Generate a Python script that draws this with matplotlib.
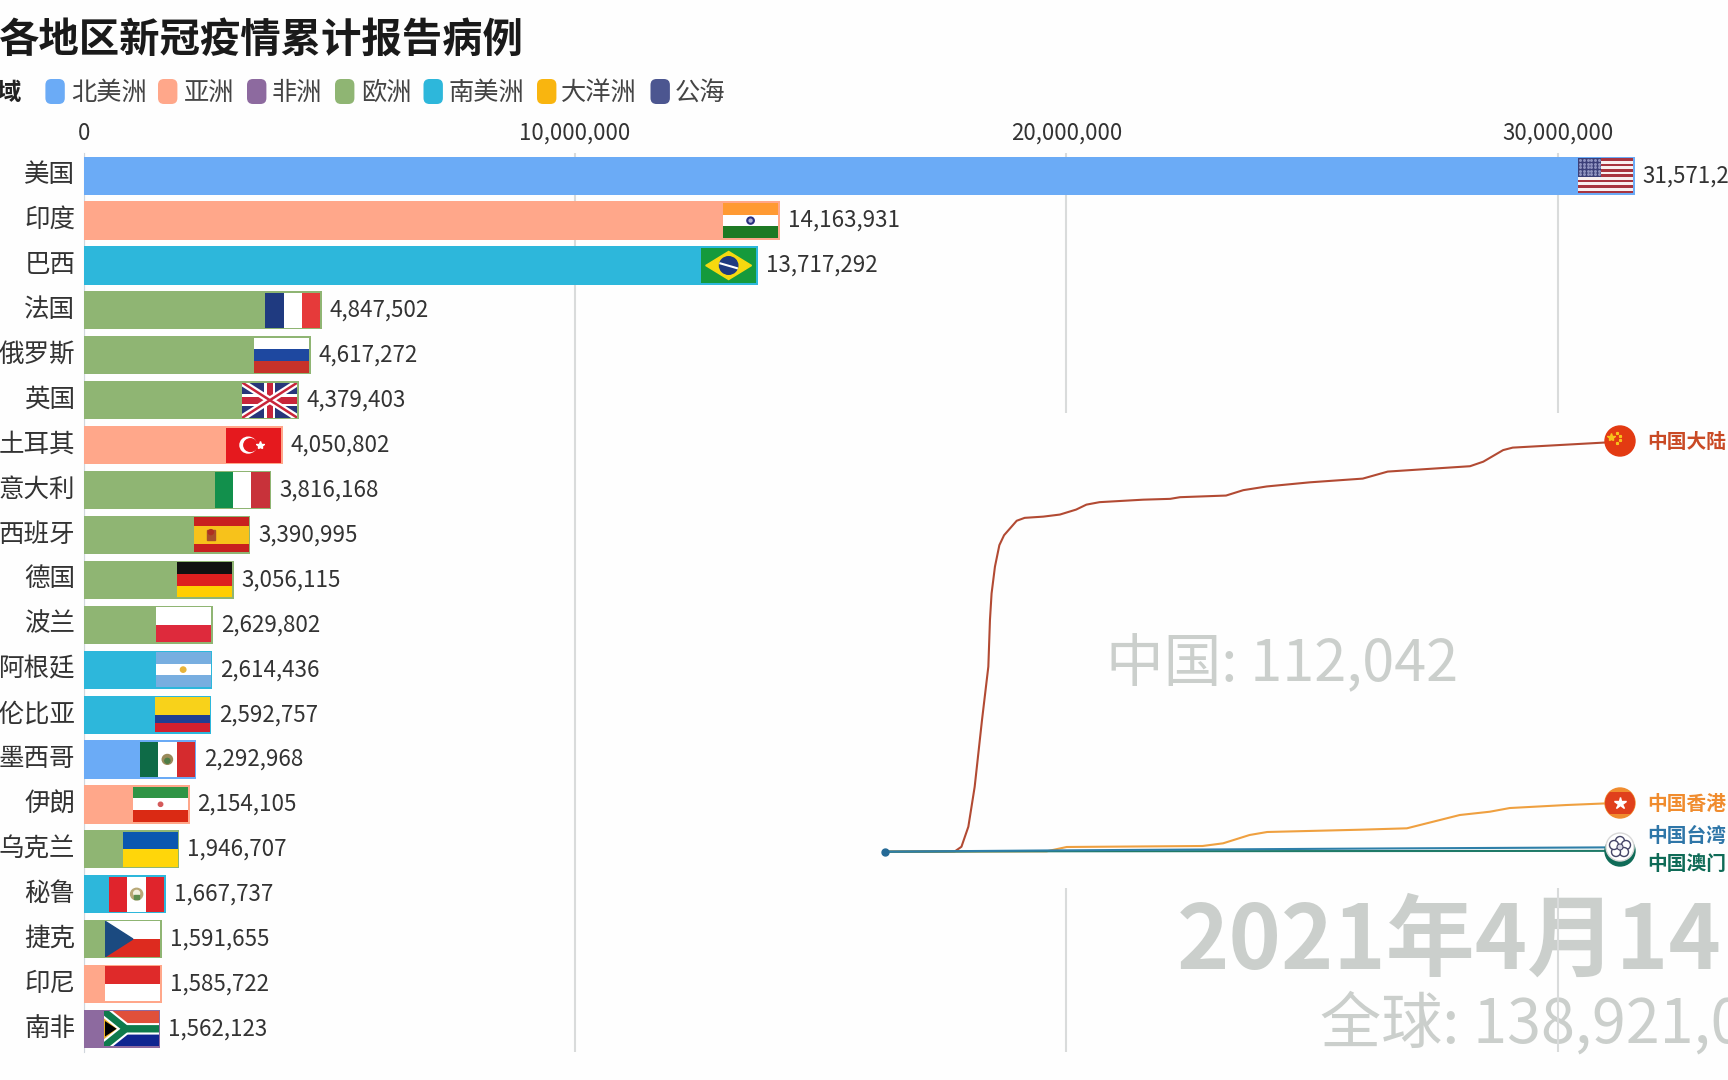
import matplotlib
matplotlib.use('Agg')
import matplotlib.pyplot as plt
from matplotlib.patches import Circle, Polygon, Rectangle, FancyBboxPatch
from matplotlib.transforms import ScaledTranslation

plt.rcParams['font.family'] = ['Noto Sans CJK SC', 'DejaVu Sans']

W = 1728
H = 1080

countries = ['美国', '印度', '巴西', '法国', '俄罗斯', '英国', '土耳其', '意大利', '西班牙', '德国',
             '波兰', '阿根廷', '哥伦比亚', '墨西哥', '伊朗', '乌克兰', '秘鲁', '捷克', '印尼', '南非']
cases = [31571200, 14163931, 13717292, 4847502, 4617272, 4379403, 4050802, 3816168, 3390995, 3056115,
         2629802, 2614436, 2592757, 2292968, 2154105, 1946707, 1667737, 1591655, 1585722, 1562123]
value_labels = ['31,571,2', '14,163,931', '13,717,292', '4,847,502', '4,617,272', '4,379,403', '4,050,802',
                '3,816,168', '3,390,995', '3,056,115', '2,629,802', '2,614,436', '2,592,757', '2,292,968',
                '2,154,105', '1,946,707', '1,667,737', '1,591,655', '1,585,722', '1,562,123']
regions = ['北美洲', '亚洲', '南美洲', '欧洲', '欧洲', '欧洲', '亚洲', '欧洲', '欧洲', '欧洲',
           '欧洲', '南美洲', '南美洲', '北美洲', '亚洲', '欧洲', '南美洲', '欧洲', '亚洲', '非洲']
legend_names = ['北美洲', '亚洲', '非洲', '欧洲', '南美洲', '大洋洲', '公海']
legend_colors = ['#6BABF6', '#FFA78A', '#8D6A9F', '#8FB573', '#2DB7DB', '#F9B50F', '#4C5690']
x_ticks = [0, 10000000, 20000000, 30000000]
x_tick_labels = ['0', '10,000,000', '20,000,000', '30,000,000']

# days since 2019-12-01, cumulative cases
mainland_days = [0, 47.6, 52, 56.7, 61, 66, 70.3, 71.4, 72.5, 74.8, 77.8, 81, 89.6, 95, 107.7, 119, 130, 137,
                 146, 175.6, 194, 200.7, 232, 243.7, 259.7, 289, 325, 342, 398, 407, 420.5, 427, 500]
mainland_cases = [0, 100, 1200, 6050, 15700, 31900, 44800, 56100, 62500, 69000, 74200, 76600, 80100, 80800,
                  81100, 81600, 82800, 84000, 84600, 85200, 85400, 85800, 86200, 87500, 88400, 89400,
                  90300, 92000, 93300, 94400, 97200, 97800, 99233]
hk_days = [0, 110, 123.6, 216, 230, 248, 260, 323, 355, 391, 411.5, 425, 463.6, 491, 500]
hk_cases = [0, 100, 1140, 1380, 2030, 4040, 4770, 5320, 5660, 8880, 9680, 10570, 11300, 11700, 11730]
tw_days = [0, 110, 200, 350, 500]
tw_cases = [0, 300, 500, 800, 1060]
macao_days = [0, 100, 500]
macao_cases = [0, 100, 200]

legend_lookup = dict(zip(legend_names, legend_colors))

# scale of the bar axis, pixels per case
X0 = 83.7
X_SCALE = 4.913e-5
FLAG_W = 56.5
BAR_H = 0.85


def fx(x):
    return x / W


def fy(y):
    return 1 - y / H


fig = plt.figure(figsize=(W / 100, H / 100), dpi=100, facecolor='#FEFEFE')
ax = fig.add_axes([fx(X0), fy(1051.5), 1 - fx(X0), (1051.5 - 153.2) / H])
ax.patch.set_visible(False)
ax.set_xlim(0, (W - X0) / X_SCALE)
ax.set_ylim(19.5, -0.5)
rows = list(range(len(countries)))
ax.barh(rows, cases, height=BAR_H, color=[legend_lookup[r] for r in regions], zorder=3)
ax.xaxis.tick_top()
ax.set_xticks(x_ticks)
ax.set_xticklabels(x_tick_labels, fontsize=16, color='#333333')
ax.set_yticks(rows)
ax.set_yticklabels(countries, fontsize=18.4, color='#333333')
ax.tick_params(axis='x', length=0, pad=6)
ax.tick_params(axis='y', length=0, pad=6)
for lbl in ax.get_yticklabels():
    lbl.set_transform(lbl.get_transform() + ScaledTranslation(0, 2.5 / 72, fig.dpi_scale_trans))
ax.set_axisbelow('line')
ax.grid(axis='x', color='#D9DBDB', linewidth=1.5)
for s in ['top', 'right', 'bottom']:
    ax.spines[s].set_visible(False)
ax.spines['left'].set_color('#D0D6DC')

for i in rows:
    ax.text(cases[i] + 8 / X_SCALE, i, value_labels[i], fontsize=16.1, color='#333333', va='center', zorder=4)

# big faded texts, the gridlines run over them
ax.text(fx(1177), fy(943), '2021年4月14日', transform=fig.transFigure, fontsize=64, fontweight='bold',
        color='#CBCFCC', va='center', zorder=1, clip_on=False)
ax.text(fx(1320), fy(1025), '全球: 138,921,0', transform=fig.transFigure, fontsize=44,
        color='#CBCFCC', va='center', zorder=1, clip_on=False)

fig.text(-0.001, fy(40), '各地区新冠疫情累计报告病例', fontsize=29.1, fontweight='bold', color='#1A1A1A', va='center')
fig.text(fx(-4), fy(93), '域', fontsize=17.5, fontweight='bold', color='#222222', va='center')

legend_sw = [45.4, 158, 247, 335, 423.5, 537, 650.5]
legend_tx = [71, 184, 272, 361, 449, 561, 675]
bg = fig.add_axes([0, 0, 1, 1], zorder=-1)
bg.set_xlim(0, W)
bg.set_ylim(H, 0)
bg.axis('off')
for name, color, sx, tx in zip(legend_names, legend_colors, legend_sw, legend_tx):
    bg.add_patch(FancyBboxPatch((sx, 79), 19.4, 25, boxstyle='round,pad=0,rounding_size=6', linewidth=0,
                                facecolor=color))
    fig.text(fx(tx), fy(93), name, fontsize=18.2, color='#444444', va='center')


def rect(a, x, y, w, h, c):
    a.add_patch(Rectangle((x, y), w, h, color=c, linewidth=0))


def hbands(a, colors):
    n = len(colors)
    for k, c in enumerate(colors):
        rect(a, 0, 2 - (k + 1) * 2 / n, 3, 2 / n, c)


def vbands(a, colors):
    n = len(colors)
    for k, c in enumerate(colors):
        rect(a, k * 3 / n, 0, 3 / n, 2, c)


def flag_us(a):
    for k in range(13):
        rect(a, 0, 2 - (k + 1) * 2 / 13, 3, 2 / 13, '#A8343F' if k % 2 == 0 else '#F8F0F0')
    rect(a, 0, 2 - 14 / 13, 1.25, 14 / 13, '#3C3F78')
    for r in range(5):
        for c in range(6):
            a.plot(0.11 + c * 0.2, 1.08 + r * 0.2, 'o', color='#8F92BE', markersize=1.1)


def flag_india(a):
    hbands(a, ['#FF9A33', '#FFFFFF', '#1E7A24'])
    a.add_patch(Circle((1.5, 1), 0.2, color='#2A3080'))
    a.add_patch(Circle((1.5, 1), 0.08, color='#B0B4D8'))


def flag_brazil(a):
    rect(a, 0, 0, 3, 2, '#159A3C')
    a.add_patch(Polygon([(0.25, 1), (1.5, 1.8), (2.75, 1), (1.5, 0.2)], color='#F6D90F'))
    a.add_patch(Circle((1.5, 1), 0.5, color='#1E3A80'))
    a.plot([1.05, 1.95], [1.12, 0.85], color='white', linewidth=1.5)


def flag_uk(a):
    rect(a, 0, 0, 3, 2, '#27367A')
    a.plot([0, 3], [0, 2], color='white', linewidth=5)
    a.plot([0, 3], [2, 0], color='white', linewidth=5)
    a.plot([0, 3], [0, 2], color='#C8253A', linewidth=1.8)
    a.plot([0, 3], [2, 0], color='#C8253A', linewidth=1.8)
    rect(a, 1.2, 0, 0.6, 2, 'white')
    rect(a, 0, 0.65, 3, 0.7, 'white')
    rect(a, 1.32, 0, 0.36, 2, '#C8253A')
    rect(a, 0, 0.79, 3, 0.42, '#C8253A')


def flag_turkey(a):
    rect(a, 0, 0, 3, 2, '#E5191E')
    a.add_patch(Circle((1.2, 1), 0.45, color='white'))
    a.add_patch(Circle((1.32, 1), 0.36, color='#E5191E'))
    a.plot(1.85, 1, marker='*', color='white', markersize=6)


def flag_spain(a):
    hbands(a, ['#C8201F', '#F7C21B', '#F7C21B', '#C8201F'])
    a.add_patch(Rectangle((0.72, 0.72), 0.42, 0.56, color='#A8502A'))
    a.add_patch(Circle((0.93, 1.16), 0.14, color='#B03020'))


def flag_argentina(a):
    hbands(a, ['#78AEE0', '#FFFFFF', '#78AEE0'])
    a.add_patch(Circle((1.5, 1), 0.15, color='#E8B43A'))


def flag_colombia(a):
    rect(a, 0, 1, 3, 1, '#F8D21A')
    rect(a, 0, 0.5, 3, 0.5, '#1F3E92')
    rect(a, 0, 0, 3, 0.5, '#D2202E')


def flag_mexico(a):
    vbands(a, ['#0E6B47', '#FFFFFF', '#D52B2E'])
    a.add_patch(Circle((1.5, 1), 0.28, color='#9A8A5A'))
    a.add_patch(Circle((1.5, 0.92), 0.14, color='#4E7D46'))


def flag_iran(a):
    hbands(a, ['#2F9445', '#FFFFFF', '#DA2A14'])
    a.add_patch(Circle((1.5, 1), 0.12, color='#D45A5A'))


def flag_peru(a):
    vbands(a, ['#E0242C', '#FFFFFF', '#E0242C'])
    a.add_patch(Circle((1.5, 1), 0.33, color='#B8A878'))
    a.add_patch(Circle((1.5, 1.05), 0.16, color='#F2F0E0'))
    a.add_patch(Rectangle((1.38, 0.72), 0.24, 0.22, color='#5E8C50'))


def flag_czech(a):
    rect(a, 0, 1, 3, 1, '#FFFFFF')
    rect(a, 0, 0, 3, 1, '#DD2B1F')
    a.add_patch(Polygon([(0, 0), (0, 2), (1.5, 1)], color='#1B4A80'))


def flag_sa(a):
    rect(a, 0, 1, 3, 1, '#E0503A')
    rect(a, 0, 0, 3, 1, '#0F2590')
    a.plot([0, 1.2, 3], [2, 1, 1], color='white', linewidth=8, solid_joinstyle='miter')
    a.plot([0, 1.2, 3], [0, 1, 1], color='white', linewidth=8, solid_joinstyle='miter')
    a.plot([0, 1.2, 3], [2, 1, 1], color='#0E7A4C', linewidth=5, solid_joinstyle='miter')
    a.plot([0, 1.2, 3], [0, 1, 1], color='#0E7A4C', linewidth=5, solid_joinstyle='miter')
    a.add_patch(Polygon([(0, 0.45), (0, 1.55), (0.8, 1)], facecolor='black', edgecolor='#F0B429', linewidth=1.5))


flag_painters = [
    flag_us, flag_india, flag_brazil,
    lambda a: vbands(a, ['#1F3A80', '#FFFFFF', '#E63A3A']),
    lambda a: hbands(a, ['#FFFFFF', '#1E48A0', '#C8322A']),
    flag_uk, flag_turkey,
    lambda a: vbands(a, ['#12904C', '#FFFFFF', '#C8323A']),
    flag_spain,
    lambda a: hbands(a, ['#111111', '#DD1F1F', '#FFCE00']),
    lambda a: hbands(a, ['#FFFFFF', '#DE2A3C']),
    flag_argentina, flag_colombia, flag_mexico, flag_iran,
    lambda a: hbands(a, ['#0A57B0', '#FFD60A']),
    flag_peru, flag_czech,
    lambda a: hbands(a, ['#DF2A2A', '#FFFFFF']),
    flag_sa,
]


def tiny_axes(x, y, w, h, zorder=5):
    a = fig.add_axes([fx(x), fy(y + h), w / W, h / H], zorder=zorder)
    a.axis('off')
    return a


y_top = 175.7
row_px = 44.9
bar_px = BAR_H * row_px
# flag is a bit smaller than the bar, so the bar colour frames it
for i in rows:
    right = X0 + cases[i] * X_SCALE
    a = tiny_axes(right - FLAG_W, y_top + i * row_px - bar_px / 2 + 1.5, FLAG_W - 1.5, bar_px - 3)
    a.set_xlim(0, 3)
    a.set_ylim(0, 2)
    flag_painters[i](a)

# china line chart, sits on a white panel that hides the gridlines
PX_PER_DAY = 1.47
CASES_PER_PX = 242.03
line_ax = fig.add_axes([fx(880), fy(888), 1 - fx(880), (888 - 413) / H], zorder=2)
line_ax.set_facecolor('#FEFEFE')
line_ax.set_xlim(-5 / PX_PER_DAY, (W - 885) / PX_PER_DAY)
line_ax.set_ylim(-(888 - 851.7) * CASES_PER_PX, (851.7 - 413) * CASES_PER_PX)
for s in line_ax.spines.values():
    s.set_visible(False)
line_ax.set_xticks([])
line_ax.set_yticks([])
line_ax.plot(mainland_days, mainland_cases, color='#B24A33', linewidth=1.5)
line_ax.plot(hk_days, hk_cases, color='#EFA040', linewidth=1.5)
line_ax.plot(macao_days, macao_cases, color='#1F7A68', linewidth=1.5)
line_ax.plot(tw_days, tw_cases, color='#2E7FA8', linewidth=1.5)
line_ax.plot([0], [0], marker='o', color='#256A96', markersize=5)
line_ax.text(fx(1106), fy(665), '中国: 112,042', transform=fig.transFigure, fontsize=41.5, color='#CBCFCC',
             va='center')

label_names = ['中国大陆', '中国香港', '中国台湾', '中国澳门']
label_colors = ['#C94A25', '#F08C2E', '#2F76A8', '#0F6B57']
label_ys = [442, 804, 836, 864]
for name, color, ly in zip(label_names, label_colors, label_ys):
    line_ax.text(fx(1647), fy(ly), name, transform=fig.transFigure, fontsize=14.2, fontweight='bold', color=color,
                 va='center')


def round_axes(cx, cy, r, zorder=6):
    a = tiny_axes(cx - r - 1, cy - r - 1, 2 * r + 2, 2 * r + 2, zorder=zorder)
    a.set_xlim(-r - 1, r + 1)
    a.set_ylim(-r - 1, r + 1)
    return a


cn = round_axes(1620, 441, 15)
cn.add_patch(Circle((0, 0), 15, color='#E33A12'))
cn.plot(-9, 4, marker='*', color='#F7C21B', markersize=6)
for sx, sy in [(-3, 8), (0, 5), (0, 1), (-3, -2)]:
    cn.plot(sx, sy, marker='*', color='#F7C21B', markersize=2)

hk = round_axes(1620, 803, 15)
hk_disc = Circle((0, 0), 15, color='#F08C2E')
hk.add_patch(hk_disc)
hk_red = Rectangle((-15, -11), 30, 22, color='#E0401C', linewidth=0)
hk.add_patch(hk_red)
hk_red.set_clip_path(hk_disc)
hk.plot(0, 0, marker='*', color='white', markersize=9)

mo = round_axes(1620, 851, 15, zorder=6)
mo.add_patch(Circle((0, 0), 15, color='#0F6B57'))
tw = round_axes(1620, 847, 14, zorder=7)
tw.add_patch(Circle((0, 0), 14, facecolor='white', edgecolor='#D8D8D8', linewidth=1))
for ang_x, ang_y in [(0, 6), (6, 2), (4, -5), (-4, -5), (-6, 2)]:
    tw.add_patch(Circle((ang_x, ang_y), 4.5, facecolor='white', edgecolor='#444466', linewidth=1))
tw.add_patch(Circle((0, 0), 3, facecolor='#DDDDE8', edgecolor='#444466', linewidth=0.8))

fig.savefig('out.png', dpi=100, facecolor=fig.get_facecolor())
